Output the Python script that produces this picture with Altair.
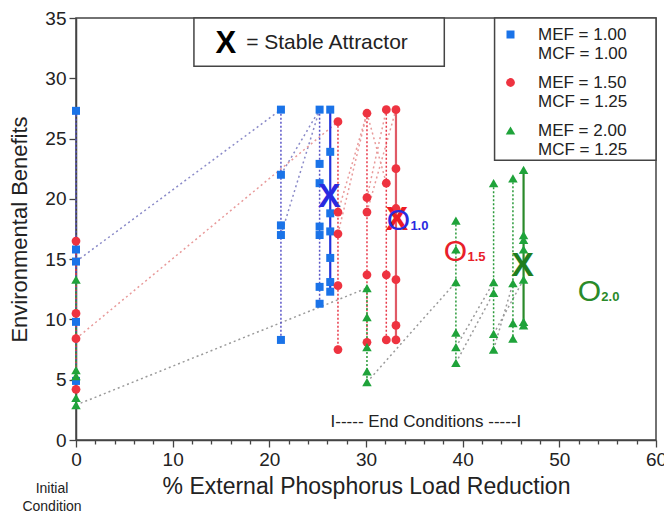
import altair as alt
import pandas as pd

FONT = "Liberation Sans"

# ---------------- data ----------------
series_names = ["MEF = 1.00|MCF = 1.00",
                "MEF = 1.50|MCF = 1.25",
                "MEF = 2.00|MCF = 1.25"]

# MEF = 1.00 / MCF = 1.00  (blue squares): columns of end conditions
blue_col_x = [0.0, 21.2, 25.2, 26.3]
blue_col_y = [
    [27.3, 15.8, 14.8, 9.8, 4.9],
    [27.4, 22.0, 17.8, 17.0, 8.3],
    [27.4, 22.9, 21.3, 17.7, 17.0, 12.7, 11.3],
    [27.4, 23.9, 18.8, 17.3, 15.1, 13.1, 12.3],
]
blue_links = [[0.0, 14.8, 21.2, 27.4], [21.2, 22.0, 25.2, 27.4], [21.2, 17.0, 25.2, 27.4]]

# MEF = 1.50 / MCF = 1.25  (red circles)
red_col_x = [0.0, 27.1, 30.1, 32.1, 33.1]
red_col_y = [
    [16.5, 10.5, 8.4, 4.2],
    [26.4, 18.9, 17.1, 12.8, 7.5],
    [27.1, 20.1, 18.9, 13.7, 8.1],
    [27.4, 21.3, 13.7, 8.3],
    [27.4, 22.5, 19.2, 13.3, 9.5, 8.3],
]
red_links = [[0.0, 8.4, 27.1, 26.4], [27.1, 18.9, 30.1, 27.1], [27.1, 17.1, 30.1, 27.1],
             [30.1, 20.1, 32.1, 27.4], [30.1, 18.9, 33.1, 27.4], [30.1, 27.1, 32.1, 21.3]]

# MEF = 2.00 / MCF = 1.25  (green triangles)
green_col_x = [0.0, 30.1, 39.3, 43.2, 45.2, 46.3]
green_col_y = [
    [13.3, 5.8, 5.3, 3.5, 2.9],
    [12.6, 10.2, 7.7, 5.7, 4.8],
    [18.2, 15.8, 13.1, 8.9, 7.7, 6.4],
    [21.3, 13.1, 12.2, 8.8, 7.5],
    [21.7, 13.0, 9.7, 8.4],
    [22.4, 17.0, 16.6, 15.8, 13.3, 9.8, 9.5],
]
green_links = [[0.0, 2.9, 30.1, 12.6], [30.1, 4.8, 39.3, 13.1], [39.3, 7.7, 43.2, 13.1],
               [39.3, 6.4, 43.2, 12.2], [43.2, 7.5, 45.2, 13.0], [43.2, 8.8, 46.3, 13.3]]

# stable attractors (X) and unstable points (O) per series
attractor_x = [26.2, 33.2, 46.2]
attractor_y = [20.3, 18.4, 14.6]
unstable_x = [33.35, 39.25, 53.1]
unstable_y = [18.3, 15.75, 12.4]
unstable_sub = ["1.0", "1.5", "2.0"]

x_tick_values = [0, 2, 4, 6, 8, 10, 12, 14, 16, 18, 20, 22, 24, 26, 28, 30, 32, 34, 36, 38, 40,
                 42, 44, 46, 48, 50, 52, 54, 56, 58, 60]
y_tick_values = [0, 5, 10, 15, 20, 25, 30, 35]

# ---------------- styles ----------------
marker_colors = ["#1a73e8", "#ee3340", "#1fa33a"]
shapes = ["square", "circle", "triangle-up"]
sizes = [64, 90, 75]
col_colors = ["#5a55c8", "#e83a4a", "#2a9a3a"]
solid_colors = ["#2233dd", "#e05a66", "#2a8a2a"]
link_colors = ["#8a8ac8", "#e89a9a", "#9a9a9a"]
x_colors = ["#2a2ae0", "#ee1c24", "#1e7e1e"]
o_colors = ["#2a2ae0", "#e8202a", "#2a8a2a"]

xs = alt.Scale(domain=[0, 60], nice=False, zero=False)
ys = alt.Scale(domain=[0, 35], nice=False, zero=False)
x_axis = alt.Axis(values=x_tick_values, title="% External Phosphorus Load Reduction",
                  labelExpr="datum.value % 10 === 0 ? datum.label : ''",
                  tickSize={"condition": {"test": "datum.value % 10 === 0", "value": 7}, "value": 4},
                  labelOverlap=False, labelFlush=False, labelPadding=3, titlePadding=6,
                  titleFontSize=23, grid=False)
y_axis = alt.Axis(values=y_tick_values, title="Environmental Benefits", tickSize=7,
                  labelFlush=False, labelPadding=3, titlePadding=13, grid=False)
X = alt.X("x:Q", scale=xs, axis=x_axis)
Y = alt.Y("y:Q", scale=ys, axis=y_axis)


def series_frames(name, col_x, col_y, links):
    pts, cols, solid, lk = [], [], [], []
    last = len(col_x) - 1
    for ci, (cx, yv_list) in enumerate(zip(col_x, col_y)):
        for i, yv in enumerate(yv_list):
            pts.append({"series": name, "x": cx, "y": yv})
            rec = {"path": f"c{ci}", "x": cx, "y": yv, "i": i}
            (solid if ci == last else cols).append(rec)
    for li, (x1, y1, x2, y2) in enumerate(links):
        lk.append({"path": f"l{li}", "x": x1, "y": y1, "i": 0})
        lk.append({"path": f"l{li}", "x": x2, "y": y2, "i": 1})
    return pts, pd.DataFrame(cols), pd.DataFrame(solid), pd.DataFrame(lk)


def line_layer(df, color, width, dash=None):
    kw = dict(color=color, strokeWidth=width)
    if dash:
        kw["strokeDash"] = dash
    return alt.Chart(df).mark_line(**kw).encode(x=X, y=Y, detail="path:N", order="i:Q")


all_pts = []
link_layers, col_layers, solid_layers = [], [], []
for k, (cx, cy, lk) in enumerate([(blue_col_x, blue_col_y, blue_links),
                                  (red_col_x, red_col_y, red_links),
                                  (green_col_x, green_col_y, green_links)]):
    pts, cols, solid, links = series_frames(series_names[k], cx, cy, lk)
    all_pts += pts
    link_layers.append(line_layer(links, link_colors[k], 1.5, [2, 3]))
    col_layers.append(line_layer(cols, col_colors[k], 1.5, [2, 2]))
    solid_layers.append(line_layer(solid, solid_colors[k], 2.2))

LEG = alt.Legend(title=None, orient="none", legendX=418, legendY=0, direction="vertical",
                 labelExpr="split(datum.label, '|')", labelFontSize=17, labelFont=FONT,
                 labelColor="#222", labelOffset=19, labelLimit=400, symbolSize=70,
                 padding=8, rowPadding=11, symbolStrokeWidth=0)

points = alt.Chart(pd.DataFrame(all_pts)).mark_point(filled=True, opacity=1).encode(
    x=X, y=Y,
    color=alt.Color("series:N", scale=alt.Scale(domain=series_names, range=marker_colors), legend=LEG),
    shape=alt.Shape("series:N", scale=alt.Scale(domain=series_names, range=shapes), legend=LEG),
    size=alt.Size("series:O", scale=alt.Scale(domain=series_names, range=sizes), legend=None),
)

x_layers, o_layers = [], []
for k in range(3):
    xd = pd.DataFrame({"x": [attractor_x[k]], "y": [attractor_y[k]]})
    x_layers.append(alt.Chart(xd).mark_text(text="X", font=FONT, fontSize=34, fontWeight="bold",
                                            color=x_colors[k], baseline="middle", dy=2)
                    .encode(x=X, y=Y))
    od = pd.DataFrame({"x": [unstable_x[k]], "y": [unstable_y[k]], "s": [unstable_sub[k]]})
    o_layers.append(alt.Chart(od).mark_text(text="O", font=FONT, fontSize=30, color=o_colors[k],
                                            baseline="middle", dy=2).encode(x=X, y=Y))
    o_layers.append(alt.Chart(od).mark_text(font=FONT, fontSize=13, fontWeight="bold",
                                            color=o_colors[k], align="left", baseline="middle",
                                            dx=12, dy=7).encode(x=X, y=Y, text="s:N"))

# annotation frames (data coordinates) and texts
box = alt.Chart(pd.DataFrame({"x": [12.2, 43.3], "x2": [38.1, 60.0],
                              "y": [31.0, 23.2], "y2": [35.0, 35.0]})).mark_rect(
    fill="white", stroke="#444", strokeWidth=1.5).encode(x=X, x2="x2:Q", y=Y, y2="y2:Q")
box_x = alt.Chart(pd.DataFrame({"x": [15.5], "y": [33.0]})).mark_text(
    text="X", font=FONT, fontSize=31, fontWeight="bold", color="black", baseline="middle", dy=2
).encode(x=X, y=Y)
box_t = alt.Chart(pd.DataFrame({"x": [17.6], "y": [33.0]})).mark_text(
    text="= Stable Attractor", font=FONT, fontSize=21, color="#222", align="left", baseline="middle", dy=1
).encode(x=X, y=Y)
end_t = alt.Chart(pd.DataFrame({"x": [36.2], "y": [1.5]})).mark_text(
    text="I----- End Conditions -----I", font=FONT, fontSize=17, color="#222", baseline="middle"
).encode(x=X, y=Y)
init_t = alt.Chart(pd.DataFrame({"x": [0.0], "y": [0.0]})).mark_text(
    text=["Initial", "Condition"], font=FONT, fontSize=14, color="#222", baseline="top",
    lineHeight=18, dx=-24, dy=42
).encode(x=X, y=Y)

chart = alt.layer(
    *link_layers, *col_layers, *solid_layers, points, *x_layers, *o_layers,
    box, box_x, box_t, end_t, init_t
).properties(
    width=580, height=422,
    autosize=alt.AutoSizeParams(type="none"),
    padding={"left": 68, "top": 10, "right": 8, "bottom": 75},
).configure_view(stroke="#444", strokeWidth=1.5).configure_axis(
    labelFont=FONT, titleFont=FONT, labelFontSize=19, titleFontSize=22, titleFontWeight="normal",
    labelColor="#222", titleColor="#222", domainColor="#444", tickColor="#444", domainWidth=1.5,
    tickWidth=1.3,
)

chart.save("out.html", embed_options={"renderer": "svg", "actions": False})
